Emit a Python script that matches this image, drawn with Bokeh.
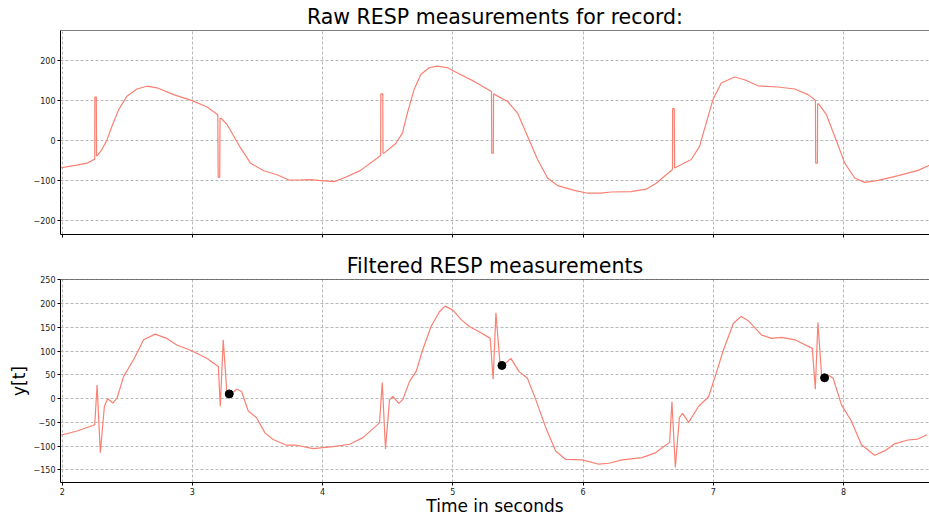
from bokeh.plotting import figure
from bokeh.layouts import column
from bokeh.models import Range1d, FixedTicker, Span, CustomJSTickFormatter
from bokeh.embed import file_html
from bokeh.resources import INLINE

# ---- data ----
raw_t = [1.987, 2.05, 2.113, 2.19, 2.25, 2.251, 2.262, 2.264, 2.27, 2.305, 2.344, 2.382, 2.433, 2.497,
         2.574, 2.651, 2.728, 2.856, 2.998, 3.113, 3.195, 3.198, 3.21, 3.212, 3.22, 3.267, 3.318, 3.37,
         3.446, 3.548, 3.651, 3.741, 3.82, 3.908, 3.97, 4.087, 4.164, 4.292, 4.446, 4.447, 4.462, 4.464,
         4.472, 4.562, 4.613, 4.651, 4.702, 4.754, 4.818, 4.882, 4.959, 5.036, 5.164, 5.297, 5.299, 5.311,
         5.313, 5.323, 5.421, 5.497, 5.574, 5.651, 5.728, 5.805, 5.933, 6.036, 6.138, 6.215, 6.369, 6.485,
         6.562, 6.687, 6.688, 6.701, 6.703, 6.831, 6.895, 6.946, 6.997, 7.062, 7.164, 7.241, 7.344, 7.497,
         7.626, 7.728, 7.785, 7.787, 7.8, 7.802, 7.81, 7.869, 7.933, 8.01, 8.087, 8.164, 8.267, 8.421,
         8.574, 8.669]
raw_y = [-68, -64, -61, -56, -46, 109, 109, -38, -37, -22, 2, 36, 77, 111,
         129, 136, 132, 115, 100, 84, 65, -91, -91, 56, 56, 40, 11, -18,
         -56, -75, -85, -98, -98, -97, -99, -102, -93, -74, -37, 117, 117, -31,
         -31, -7, 19, 69, 127, 165, 182, 186, 182, 169, 148, 123, -31, -31,
         117, 115, 98, 69, 11, -47, -93, -112, -124, -131, -131, -128, -127, -121,
         -106, -72, 80, 80, -68, -47, -14, 44, 102, 144, 159, 152, 137, 134,
         129, 115, 101, -56, -56, 92, 92, 65, 11, -56, -93, -104, -99, -87,
         -74, -60]

filt_t = [1.987, 2.115, 2.25, 2.268, 2.293, 2.324, 2.349, 2.39, 2.421, 2.472, 2.548, 2.625, 2.714,
          2.804, 2.88, 2.995, 3.11, 3.199, 3.214, 3.237, 3.263, 3.289, 3.34, 3.378, 3.429, 3.493,
          3.557, 3.62, 3.723, 3.8, 3.927, 4.08, 4.208, 4.309, 4.437, 4.458, 4.483, 4.514, 4.539,
          4.585, 4.616, 4.667, 4.718, 4.769, 4.833, 4.897, 4.94, 4.998, 5.063, 5.126, 5.216, 5.287,
          5.31, 5.331, 5.361, 5.407, 5.446, 5.509, 5.573, 5.637, 5.714, 5.79, 5.867, 5.994, 6.122,
          6.198, 6.3, 6.453, 6.556, 6.665, 6.683, 6.709, 6.74, 6.765, 6.811, 6.888, 6.964, 7.015,
          7.079, 7.155, 7.214, 7.27, 7.372, 7.449, 7.525, 7.628, 7.761, 7.784, 7.804, 7.832, 7.896,
          7.921, 7.985, 8.061, 8.138, 8.24, 8.317, 8.393, 8.495, 8.572, 8.641]
filt_y = [-77, -68, -55, 29, -114, -16, 0, -9, 1, 47, 82, 124, 136,
          127, 113, 101, 85, 68, -16, 124, 19, 8, 20, 15, -26, -40,
          -72, -86, -98, -98, -105, -101, -96, -82, -51, 34, -106, -2, 5,
          -10, -2, 36, 57, 103, 152, 183, 195, 187, 167, 152, 139, 127,
          41, 181, 78, 75, 85, 57, 43, -2, -61, -110, -128, -129, -138,
          -136, -129, -124, -114, -92, -6, -145, -40, -31, -50, -16, 4, 47,
          103, 159, 173, 164, 134, 127, 129, 124, 106, 20, 161, 50, 48,
          43, -13, -47, -97, -119, -110, -95, -87, -85, -76]

peak_t = [3.283, 5.377, 7.855]
peak_y = [10, 70, 44]

x_ticks = [2, 3, 4, 5, 6, 7, 8]
raw_ticks = [-200, -100, 0, 100, 200]
filt_ticks = [-150, -100, -50, 0, 50, 100, 150, 200, 250]

FONT = "DejaVu Sans"
LINE = "#fa8072"
fmt = CustomJSTickFormatter(code="return tick < 0 ? '\u2212' + Math.abs(tick) : tick.toString();")
blank = CustomJSTickFormatter(code="return '';")


def style(p, yticks, top, title_size):
    p.outline_line_color = None
    p.add_layout(Span(location=top, dimension="width", line_color="black", line_width=1))
    p.xaxis.ticker = FixedTicker(ticks=x_ticks)
    p.yaxis.ticker = FixedTicker(ticks=yticks)
    p.yaxis.formatter = fmt
    for ax in (p.xaxis, p.yaxis):
        ax.axis_line_color = "black"
        ax.axis_line_width = 1
        ax.major_tick_out = 3
        ax.major_tick_in = 0
        ax.major_tick_line_color = "black"
        ax.minor_tick_line_color = None
        ax.major_label_text_font = FONT
        ax.major_label_text_font_size = "8px"
        ax.major_label_text_color = "#222222"
        ax.major_label_standoff = 2
    p.grid.grid_line_color = "#b0b0b0"
    p.grid.grid_line_dash = "3 2"
    p.grid.grid_line_width = 0.9
    p.title.text_font = FONT
    p.title.text_font_size = title_size
    p.title.text_font_style = "normal"
    p.title.align = "center"
    p.title.text_color = "black"
    p.title.standoff = 4


p1 = figure(frame_width=869, frame_height=204, x_range=Range1d(1.987, 8.661),
            y_range=Range1d(-234, 275), output_backend="svg", toolbar_location=None,
            min_border_left=60, min_border_right=0, min_border_top=0, min_border_bottom=15,
            title="Raw RESP measurements for record:")
style(p1, raw_ticks, 275, "20.5px")
p1.xaxis.formatter = blank
p1.line(raw_t, raw_y, line_color=LINE, line_width=1.2)

p2 = figure(frame_width=869, frame_height=203, x_range=p1.x_range,
            y_range=Range1d(-176.5, 251), output_backend="svg", toolbar_location=None,
            min_border_left=60, min_border_right=0, min_border_top=0, min_border_bottom=0,
            title="Filtered RESP measurements")
style(p2, filt_ticks, 251, "20.6px")
p2.line(filt_t, filt_y, line_color=LINE, line_width=1.2)
p2.scatter(peak_t, peak_y, size=8, color="black")
p2.xaxis.axis_label = "Time in seconds"
p2.yaxis.axis_label = "y[t]"
for ax in (p2.xaxis, p2.yaxis):
    ax.axis_label_text_font = FONT
    ax.axis_label_text_font_style = "normal"
    ax.axis_label_text_color = "black"
p2.xaxis.axis_label_text_font_size = "17px"
p2.yaxis.axis_label_text_font_size = "17px"
p2.xaxis.axis_label_standoff = -2
p2.yaxis.axis_label_standoff = 2

layout = column(p1, p2, spacing=0)
open("out.html", "w").write(file_html(layout, INLINE))
